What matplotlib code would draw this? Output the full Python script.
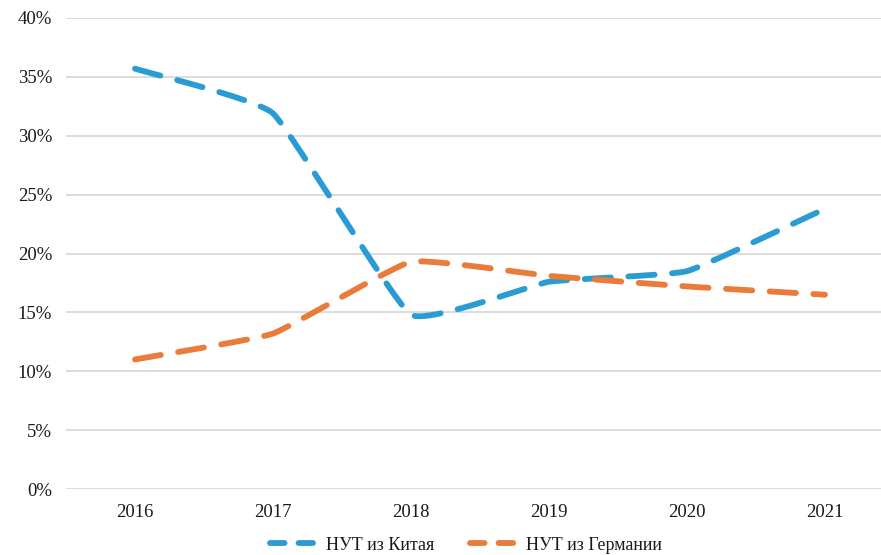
import numpy as np
import matplotlib
matplotlib.use("Agg")
import matplotlib.pyplot as plt
from matplotlib.ticker import FuncFormatter
from matplotlib.lines import Line2D

years = ["2016", "2017", "2018", "2019", "2020", "2021"]
china = [35.7, 31.9, 14.8, 17.6, 18.5, 23.8]
germany = [11.0, 13.2, 19.3, 18.1, 17.2, 16.5]
labels = ["НУТ из Китая", "НУТ из Германии"]

BLUE = "#2a9cd3"
ORANGE = "#e97c3a"

plt.rcParams["font.family"] = ["Liberation Serif", "DejaVu Serif"]


def smooth(x, y, k=0.35, n=40):
    x = np.asarray(x, float)
    y = np.asarray(y, float)
    px = np.concatenate([[2 * x[0] - x[1]], x, [2 * x[-1] - x[-2]]])
    py = np.concatenate([[2 * y[0] - y[1]], y, [2 * y[-1] - y[-2]]])
    xs, ys = [], []
    for i in range(1, len(px) - 2):
        t = np.linspace(0, 1, n, endpoint=(i == len(px) - 3))
        p0, p1, p2, p3 = (np.array([px[j], py[j]]) for j in range(i - 1, i + 3))
        b0 = p1
        b1 = p1 + k * (p2 - p0) / 6
        b2 = p2 - k * (p3 - p1) / 6
        b3 = p2
        pts = ((1 - t) ** 3)[:, None] * b0 + (3 * (1 - t) ** 2 * t)[:, None] * b1 \
            + (3 * (1 - t) * t ** 2)[:, None] * b2 + (t ** 3)[:, None] * b3
        xs.extend(pts[:, 0])
        ys.extend(pts[:, 1])
    return np.array(xs), np.array(ys)


fig = plt.figure(figsize=(8.81, 5.55), dpi=100)
ax = fig.add_axes([66 / 881, 1 - 489 / 555, (894 - 66) / 881, (489 - 18) / 555])

x = np.arange(len(years))
handles = []
for vals, col in [(china, BLUE), (germany, ORANGE)]:
    sx, sy = smooth(x, vals)
    ax.plot(sx, sy, color=col, lw=4.2, linestyle=(0, (4.5, 3)),
            dash_capstyle="round", solid_capstyle="round")
    handles.append(Line2D([], [], color=col, lw=4.2, linestyle=(0, (2.5, 2.4)),
                          dash_capstyle="round"))

ax.set_xlim(-0.5, len(years) - 0.5)
ax.set_ylim(0, 40)
ax.set_yticks(np.arange(0, 41, 5))
ax.yaxis.set_major_formatter(FuncFormatter(lambda v, p: f"{v:.0f}%"))
ax.set_xticks(x)
ax.set_xticklabels(years)
ax.grid(axis="y", color="#d9d9d9", lw=1.3)
ax.set_axisbelow(True)
for s in ax.spines.values():
    s.set_visible(False)
ax.tick_params(length=0, labelsize=13.5, colors="#1a1a1a")
ax.tick_params(axis="x", pad=11)
ax.tick_params(axis="y", pad=10)

leg = fig.legend(handles, labels, loc="center", bbox_to_anchor=(466 / 881, 1 - 545 / 555),
                 ncol=2, frameon=False, fontsize=13, handlelength=2.4, columnspacing=2.0,
                 handletextpad=0.7)
for t in leg.get_texts():
    t.set_color("#1a1a1a")

fig.savefig("out.png", dpi=100)
